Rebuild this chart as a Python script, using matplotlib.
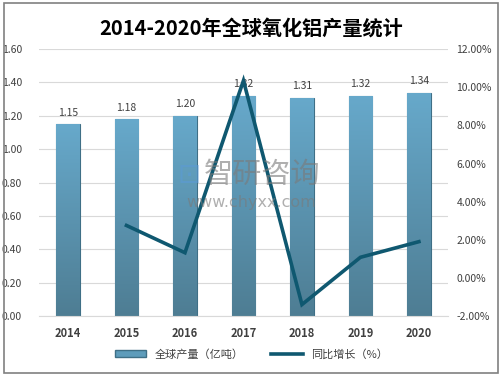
import matplotlib.pyplot as plt
import numpy as np
from matplotlib.patches import Rectangle, Patch
from matplotlib.lines import Line2D
from matplotlib.colors import LinearSegmentedColormap

plt.rcParams['font.family'] = ['Noto Sans CJK SC', 'DejaVu Sans']

years = ['2014', '2015', '2016', '2017', '2018', '2019', '2020']
output = [1.15, 1.18, 1.20, 1.32, 1.31, 1.32, 1.34]
growth_years = ['2015', '2016', '2017', '2018', '2019', '2020']
growth = [2.75, 1.32, 10.35, -1.40, 1.08, 1.90]

fig = plt.figure(figsize=(5.03, 3.78), dpi=100)
fig.patches.append(Rectangle((0.008, 0.013), 0.982, 0.978, transform=fig.transFigure,
                             fill=False, edgecolor='#808080', linewidth=1.2))

ax = fig.add_axes([0.077, 0.164, 0.814, 0.706])
x = np.arange(len(years))
bars = ax.bar(x, output, width=0.4, color='#5E9CBB', edgecolor='#3F6F86', linewidth=0.8, zorder=2)

# vertical gradient inside each bar
grad = np.linspace(0, 1, 256).reshape(-1, 1)
cmap = LinearSegmentedColormap.from_list('bar', ['#4E7D93', '#67A9CB'])
for b in bars:
    bx, by = b.get_x(), b.get_y()
    w, h = b.get_width(), b.get_height()
    im = ax.imshow(grad, extent=[bx, bx + w, by, by + h], origin='lower', cmap=cmap,
                   aspect='auto', zorder=2.5)
    im.set_clip_path(b)

for xi, v in zip(x, output):
    ax.text(xi, v + 0.04, f'{v:.2f}', ha='center', va='bottom', fontsize=7.5, color='#404040', zorder=5)

ax.set_xlim(-0.5, len(years) - 0.5)
ax.set_ylim(0, 1.6)
ax.set_yticks(np.arange(0, 1.61, 0.2))
ax.set_yticklabels([f'{t:.2f}' for t in np.arange(0, 1.61, 0.2)], fontsize=7.5, color='#404040')
ax.set_xticks(x)
ax.set_xticklabels(years, fontsize=8, fontweight='bold', color='#404040')
ax.tick_params(length=0, pad=8)
ax.tick_params(axis='y', pad=12)
ax.grid(axis='y', color='#D9D9D9', linewidth=0.8, zorder=0)
ax.set_axisbelow(True)
for s in ['top', 'right', 'left']:
    ax.spines[s].set_visible(False)
ax.spines['bottom'].set_color('#D9D9D9')

ax2 = ax.twinx()
gx = [years.index(y) for y in growth_years]
ax2.plot(gx, growth, color='#0F5870', linewidth=2.6, zorder=4, solid_joinstyle='miter')
ax2.set_ylim(-2, 12)
ax2.set_yticks(np.arange(-2, 12.1, 2))
ax2.set_yticklabels([f'{t:.2f}%' for t in np.arange(-2, 12.1, 2)], fontsize=7.5, color='#404040')
ax2.tick_params(length=0, pad=6)
for s in ax2.spines.values():
    s.set_visible(False)

# watermark
fig.text(0.375, 0.537, '⊡', fontsize=20, color='#5B9BD5', alpha=0.6, ha='center', va='center',
         family=['DejaVu Sans'])
fig.text(0.52, 0.537, '智研咨询', fontsize=21, color='#7A7A7A', alpha=0.6, ha='center', va='center')
fig.text(0.5, 0.463, 'www.chyxx.com', fontsize=11.5, color='#7A7A7A', alpha=0.6, ha='center',
         va='center', family=['DejaVu Sans'])

fig.text(0.5, 0.925, '2014-2020年全球氧化铝产量统计', fontsize=14.5, fontweight='bold',
         ha='center', va='center', color='#000000')

# legend
handles = [Patch(facecolor='#5E9CBB', edgecolor='#3F6F86', label='全球产量（亿吨）'),
           Line2D([0], [0], color='#0F5870', linewidth=2.6, label='同比增长（%）')]
fig.legend(handles=handles, loc='center', bbox_to_anchor=(0.5, 0.063), ncol=2, frameon=False,
           fontsize=8, handlelength=2.8, handleheight=0.5, columnspacing=2.5, labelcolor='#404040')

fig.savefig('out.png', dpi=100)
